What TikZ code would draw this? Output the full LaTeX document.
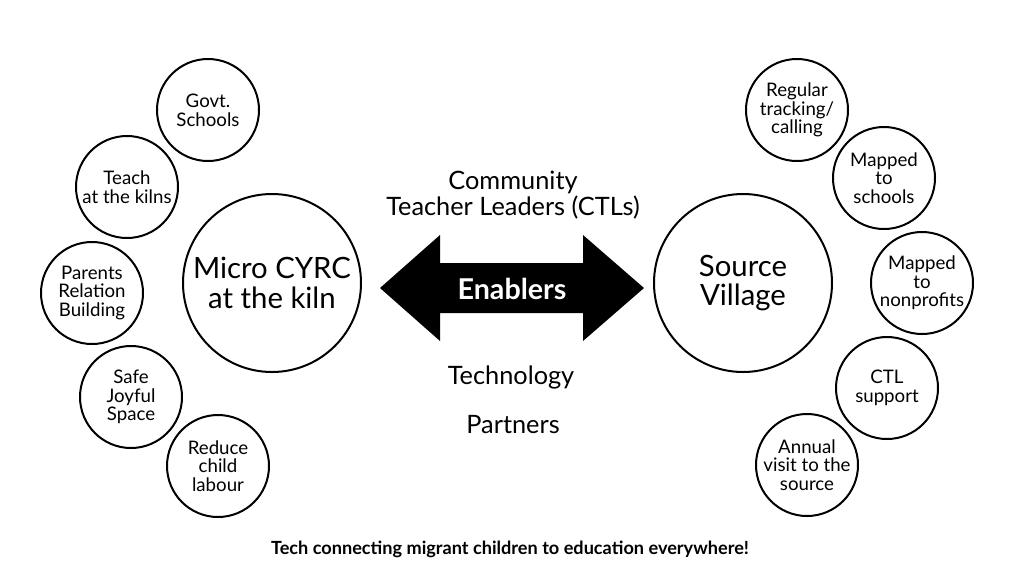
\documentclass[tikz,border=0pt]{standalone}
\usepackage{fontspec}
\setmainfont{Lato}
\begin{document}
\begin{tikzpicture}[x=0.75pt, y=-0.75pt, line join=round, line cap=round]
	\tikzset{
		bubble/.style={circle, draw=black, line width=1.5pt, minimum size=76.5pt, inner sep=0pt, align=center, font=\fontsize{14}{14}\selectfont},
		hub/.style={circle, draw=black, line width=1.5pt, minimum size=133.5pt, inner sep=0pt, align=center, font=\fontsize{22}{22}\selectfont},
		middletext/.style={align=center, font=\fontsize{19}{19}\selectfont}
	}
	\useasboundingbox[fill=white] (0,0) rectangle (1024,576);
	%Hai vòng tròn lớn
	\node[hub] (kiln) at (272,283) {Micro CYRC\\at the kiln};
	\node[hub] (village) at (743,283) {Source\\Village};
	%Bên trái
	\node[bubble] (govt) at (208,110) {Govt.\\Schools};
	\node[bubble] (teach) at (127,187) {Teach\\at the kilns};
	\node[bubble] (parents) at (92,293) {Parents\\Relation\\Building};
	\node[bubble] (safe) at (131,397) {Safe\\Joyful\\Space};
	\node[bubble] (reduce) at (218,466) {Reduce\\child\\labour};
	%Bên phải
	\node[bubble] (tracking) at (797,110) {Regular\\tracking/\\calling};
	\node[bubble] (schools) at (884,178) {Mapped\\to\\schools};
	\node[bubble] (nonprofits) at (922,283) {Mapped\\to\\nonprofits};
	\node[bubble] (support) at (887,388) {CTL\\support};
	\node[bubble] (annual) at (807,465) {Annual\\visit to the\\source};
	%Mũi tên hai chiều
	\fill[black] (380,288)--(440,235)--(440,263)--(583,263)--(583,235)--(644,288)--(583,341)--(583,313)--(440,313)--(440,341)--cycle;
	\node[text=white, font=\fontsize{21.5}{24}\bfseries] (enablers) at (512,289) {Enablers};
	\node[middletext] (ctl) at (513,195) {Community\\Teacher Leaders (CTLs)};
	\node[middletext] (tech) at (511,377) {Technology};
	\node[middletext] (partners) at (513,425) {Partners};
	\node[font=\fontsize{13.6}{15}\bfseries] (caption) at (510,549) {Tech connecting migrant children to education everywhere!};
\end{tikzpicture}
\end{document}
